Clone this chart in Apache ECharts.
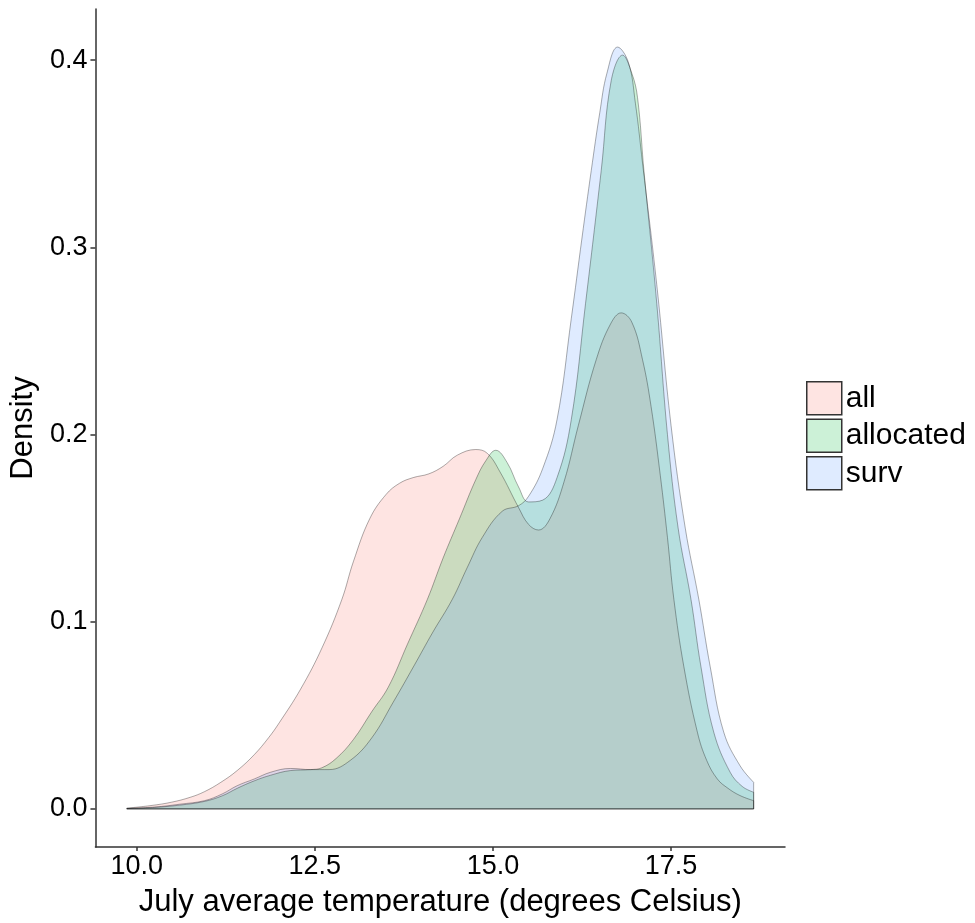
<!DOCTYPE html>
<html>
<head>
<meta charset="utf-8">
<title>July average temperature density</title>
<script src="https://cdn.jsdelivr.net/npm/echarts@6/dist/echarts.min.js"></script>
<style>
  html, body { margin: 0; padding: 0; background: #ffffff; }
  #chart { width: 975px; height: 923px; }
</style>
</head>
<body>
<div id="chart"></div>
<script>
// Kernel density estimates of July average temperature for three groups.
const tempAll = [9.86, 10.2, 10.49, 10.75, 10.95, 11.18, 11.41, 11.65, 11.85, 12.0, 12.3, 12.6, 12.88, 13.04, 13.27, 13.5, 13.69, 13.88, 14.1, 14.3, 14.5, 14.76, 14.92, 15.1, 15.36, 15.5, 15.64, 15.8, 16.0, 16.2, 16.45, 16.65, 16.8, 16.95, 17.1, 17.22, 17.35, 17.45, 17.54, 17.68, 17.87, 18.0, 18.15, 18.3, 18.47, 18.66];
const densAll = [0.0004, 0.0018, 0.0036, 0.0062, 0.0092, 0.0142, 0.0205, 0.029, 0.038, 0.046, 0.064, 0.086, 0.112, 0.132, 0.155, 0.168, 0.174, 0.177, 0.179, 0.183, 0.189, 0.192, 0.190, 0.180, 0.161, 0.152, 0.149, 0.155, 0.175, 0.205, 0.240, 0.259, 0.265, 0.260, 0.240, 0.215, 0.178, 0.145, 0.112, 0.076, 0.041, 0.026, 0.016, 0.011, 0.0071, 0.0044];

const tempAllocated = [9.86, 10.25, 10.6, 10.95, 11.2, 11.41, 11.65, 11.88, 12.16, 12.44, 12.6, 12.8, 13.04, 13.3, 13.53, 13.8, 14.08, 14.3, 14.53, 14.76, 14.9, 15.04, 15.2, 15.36, 15.5, 15.7, 15.9, 16.1, 16.3, 16.52, 16.66, 16.82, 16.95, 17.03, 17.12, 17.3, 17.45, 17.6, 17.78, 17.92, 18.1, 18.33, 18.5, 18.66];
const densAllocated = [0.0002, 0.0008, 0.002, 0.004, 0.007, 0.011, 0.015, 0.018, 0.0205, 0.021, 0.022, 0.027, 0.037, 0.052, 0.065, 0.088, 0.112, 0.134, 0.155, 0.176, 0.186, 0.1916, 0.185, 0.172, 0.164, 0.165, 0.177, 0.208, 0.27, 0.341, 0.389, 0.4027, 0.393, 0.38, 0.341, 0.27, 0.2, 0.15, 0.112, 0.076, 0.041, 0.0196, 0.012, 0.0089];

const tempSurv = [9.86, 10.25, 10.6, 10.95, 11.2, 11.41, 11.65, 11.88, 12.16, 12.44, 12.7, 13.0, 13.3, 13.6, 13.9, 14.15, 14.43, 14.64, 14.85, 15.13, 15.36, 15.5, 15.7, 15.9, 16.1, 16.25, 16.38, 16.5, 16.6, 16.75, 16.9, 17.0, 17.1, 17.3, 17.5, 17.7, 17.89, 18.05, 18.24, 18.47, 18.66];
const densSurv = [0.0003, 0.001, 0.0025, 0.0044, 0.008, 0.0124, 0.016, 0.0196, 0.0216, 0.021, 0.021, 0.026, 0.038, 0.057, 0.077, 0.094, 0.112, 0.129, 0.145, 0.159, 0.162, 0.167, 0.182, 0.208, 0.262, 0.305, 0.341, 0.372, 0.393, 0.407, 0.399, 0.377, 0.345, 0.28, 0.205, 0.15, 0.112, 0.076, 0.041, 0.023, 0.0142];

const groupNames = ['all', 'allocated', 'surv'];
const xTicks = [10, 12.5, 15, 17.5];
const yTicks = [0, 0.1, 0.2, 0.3, 0.4];

const groups = [
  { name: groupNames[0], xs: tempAll, ys: densAll, fill: 'rgba(248,118,109,0.2)' },
  { name: groupNames[1], xs: tempAllocated, ys: densAllocated, fill: 'rgba(0,186,56,0.2)' },
  { name: groupNames[2], xs: tempSurv, ys: densSurv, fill: 'rgba(97,156,255,0.2)' }
];

const outline = 'rgba(0,0,0,0.32)';
const FONT = '"Liberation Sans", Arial, sans-serif';

// Padded axis extents around the full temperature / density range
const allX = tempAll.concat(tempAllocated, tempSurv);
const allY = densAll.concat(densAllocated, densSurv);
const xLo = Math.min(...allX), xHi = Math.max(...allX);
const yHi = Math.max(...allY);
const xPad = (xHi - xLo) * 0.05;
const yPad = yHi * 0.05;

const series = [];
groups.forEach(g => {
  series.push({
    name: g.name,
    type: 'line',
    data: g.xs.map((x, i) => [x, g.ys[i]]),
    smooth: 0.4,
    symbol: 'none',
    lineStyle: { color: outline, width: 1 },
    itemStyle: { color: g.fill },
    areaStyle: { color: g.fill, origin: 0, opacity: 1 },
    z: 2
  });
  // closing edges of the density polygon (right side and baseline)
  const n = g.xs.length;
  series.push({
    name: g.name + '-edge',
    type: 'line',
    data: [[g.xs[n - 1], g.ys[n - 1]], [g.xs[n - 1], 0], [g.xs[0], 0], [g.xs[0], g.ys[0]]],
    symbol: 'none',
    silent: true,
    lineStyle: { color: outline, width: 1 },
    z: 3
  });
});

const chart = echarts.init(document.getElementById('chart'), null, { renderer: 'canvas' });
chart.setOption({
  animation: false,
  backgroundColor: '#ffffff',
  textStyle: { fontFamily: FONT },
  grid: { left: 89, right: 190, top: 9, bottom: 74, containLabel: false },
  xAxis: {
    type: 'value',
    min: xLo - xPad,
    max: xHi + xPad,
    name: 'July average temperature (degrees Celsius)',
    nameLocation: 'middle',
    nameGap: 40,
    nameTextStyle: { fontSize: 31, color: '#000', fontFamily: FONT },
    axisLine: { onZero: false, lineStyle: { color: '#333', width: 1.5 } },
    axisTick: { show: true, length: 4, lineStyle: { color: '#333', width: 1.5 }, customValues: xTicks },
    axisLabel: { fontSize: 27, color: '#000', margin: 6, fontFamily: FONT,
      customValues: xTicks, formatter: v => Number(v).toFixed(1) },
    splitLine: { show: false }
  },
  yAxis: {
    type: 'value',
    min: -yPad,
    max: yHi + yPad,
    name: 'Density',
    nameLocation: 'middle',
    nameGap: 49,
    nameTextStyle: { fontSize: 31, color: '#000', fontFamily: FONT },
    axisLine: { show: true, onZero: false, lineStyle: { color: '#333', width: 1.5 } },
    axisTick: { show: true, length: 5, lineStyle: { color: '#333', width: 1.5 }, customValues: yTicks },
    axisLabel: { fontSize: 27, color: '#000', margin: 8, fontFamily: FONT,
      customValues: yTicks, formatter: v => Number(v).toFixed(1) },
    splitLine: { show: false }
  },
  legend: {
    orient: 'vertical',
    left: 806,
    top: 381,
    itemWidth: 35,
    itemHeight: 33,
    itemGap: 3,
    icon: 'rect',
    padding: 0,
    textStyle: { fontSize: 30, color: '#000', fontFamily: FONT, padding: [6, 0, 0, -1] },
    data: groups.map(g => ({
      name: g.name,
      icon: 'rect',
      itemStyle: { color: g.fill, borderColor: '#333', borderWidth: 1.5 }
    }))
  },
  series: series
});
</script>
</body>
</html>
